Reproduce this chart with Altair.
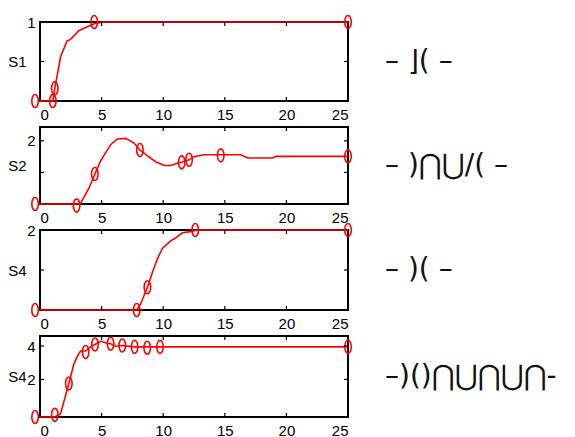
import altair as alt
import pandas as pd

# ---------------- data ----------------
x_ticks = [5, 10, 15, 20]
x_labels = [0, 5, 10, 15, 20, 25]

s1_line_x = [0, 1.04, 1.2, 1.67, 2.2, 2.48, 3.15, 3.7, 4.46, 5.3, 25]
s1_line_y = [0, 0, 0.16, 0.56, 0.76, 0.78, 0.89, 0.93, 0.98, 1.0, 1.0]
s1_mark_x = [-0.4, 1.04, 1.2, 4.4, 25]
s1_mark_y = [0, 0, 0.16, 1.0, 1.0]

s2_line_x = [0, 2.97, 3.3, 3.97, 4.46, 4.92, 5.73, 6.28, 6.95, 7.63, 8.11, 8.7, 9.39,
             10.07, 10.6, 11.15, 11.5, 12.1, 12.5, 13.3, 16.3, 16.85, 18.9, 19.15, 25]
s2_line_y = [0, 0, 0.02, 0.5, 0.95, 1.37, 1.88, 2.06, 2.08, 1.93, 1.71, 1.53, 1.34,
             1.22, 1.22, 1.29, 1.32, 1.40, 1.50, 1.56, 1.56, 1.46, 1.46, 1.51, 1.51]
s2_mark_x = [-0.4, 2.97, 4.45, 8.11, 11.5, 12.1, 14.67, 25]
s2_mark_y = [0, -0.05, 0.95, 1.71, 1.32, 1.40, 1.54, 1.51]

s3_line_x = [0, 7.85, 8.17, 8.72, 9.12, 9.53, 9.93, 10.6, 10.9, 11.56, 12.2, 12.8, 25]
s3_line_y = [0, 0, 0.15, 0.57, 0.94, 1.28, 1.54, 1.73, 1.78, 1.93, 1.96, 2.0, 2.0]
s3_mark_x = [-0.4, 7.85, 8.72, 12.6, 25]
s3_mark_y = [0, 0, 0.57, 2.0, 2.0]

s4_line_x = [0, 1.2, 1.67, 2.34, 2.75, 3.07, 3.3, 3.7, 4.1, 4.46, 4.92, 5.33, 5.73,
             6.14, 6.68, 7.68, 8.7, 9.74, 25]
s4_line_y = [-0.25, -0.25, -0.05, 1.76, 2.92, 3.45, 3.7, 3.7, 3.95, 4.09, 4.28, 4.2, 4.14,
             3.99, 4.03, 3.95, 3.95, 3.95, 3.95]
s4_mark_x = [-0.4, 1.2, 2.34, 3.7, 4.46, 5.73, 6.68, 7.68, 8.7, 9.74, 25]
s4_mark_y = [-0.25, -0.12, 1.76, 3.64, 4.09, 4.14, 4.03, 3.95, 3.9, 3.95, 3.95]

panel_names = ["S1", "S2", "S4", "S4"]
glyphs = ["\u2013 \u230b( \u2013", "\u2013 )\u22c2\u22c3/( \u2013", "\u2013 )( \u2013",
          "\u2013)()\u22c2\u22c3\u22c2\u22c3\u22c2-"]

# ---------------- chart ----------------
W = 308
ELLIPSE = "M-0.5,0A0.5,1,0,1,1,0.5,0A0.5,1,0,1,1,-0.5,0Z"
RED = "#ff0000"


def panel(name, lx, ly, mx, my, ydom, ylabels, yticks, h, glyph):
    line_df = pd.DataFrame({"x": lx, "y": ly})
    mk_df = pd.DataFrame({"x": mx, "y": my})
    xt_df = pd.DataFrame({"t": x_ticks})
    yt_df = pd.DataFrame({"t": yticks})
    xs = alt.Scale(domain=[0, 25], nice=False, zero=False)
    ys = alt.Scale(domain=ydom, nice=False, zero=False)
    xax = alt.Axis(values=x_labels, tickSize=0, domain=False, grid=False,
                   labelPadding=6, title=None, format="d")
    yax = alt.Axis(values=ylabels, tickSize=0, domain=False, grid=False,
                   labelPadding=5, title=name, titleAngle=0, titleX=-23,
                   titleY=h / 2, titleAlign="center", titleBaseline="middle",
                   format="d")
    X = lambda f: alt.X(f, scale=xs, axis=xax)
    Y = lambda f: alt.Y(f, scale=ys, axis=yax)
    line = alt.Chart(line_df).mark_line(color=RED, strokeWidth=1.6).encode(
        x=X("x:Q"), y=Y("y:Q"))
    pts = alt.Chart(mk_df).mark_point(
        shape=ELLIPSE, size=169, color=RED, filled=False, strokeWidth=1.6, opacity=1
    ).encode(x=X("x:Q"), y=Y("y:Q"))
    xt_top = alt.Chart(xt_df).mark_rule(color="black", strokeWidth=1.2).encode(
        x=X("t:Q"), y=alt.value(0), y2=alt.value(4))
    xt_bot = alt.Chart(xt_df).mark_rule(color="black", strokeWidth=1.2).encode(
        x=X("t:Q"), y=alt.value(h), y2=alt.value(h - 4))
    yt_l = alt.Chart(yt_df).mark_rule(color="black", strokeWidth=1.2).encode(
        y=Y("t:Q"), x=alt.value(0), x2=alt.value(4))
    yt_r = alt.Chart(yt_df).mark_rule(color="black", strokeWidth=1.2).encode(
        y=Y("t:Q"), x=alt.value(W), x2=alt.value(W - 4))
    txt = alt.Chart(pd.DataFrame({"g": [glyph]})).mark_text(
        align="left", baseline="middle", fontSize=28, font="DejaVu Sans",
        color="#111111"
    ).encode(text="g:N", x=alt.value(345), y=alt.value(h / 2))
    return alt.layer(line, pts, xt_top, xt_bot, yt_l, yt_r, txt).properties(
        width=W, height=h)


p1 = panel(panel_names[0], s1_line_x, s1_line_y, s1_mark_x, s1_mark_y,
           [0, 1], [1], [0.5], 79, glyphs[0])
p2 = panel(panel_names[1], s2_line_x, s2_line_y, s2_mark_x, s2_mark_y,
           [0, 2.44], [2], [1, 2], 77, glyphs[1])
p3 = panel(panel_names[2], s3_line_x, s3_line_y, s3_mark_x, s3_mark_y,
           [0, 2], [2], [1], 80, glyphs[2])
p4 = panel(panel_names[3], s4_line_x, s4_line_y, s4_mark_x, s4_mark_y,
           [-0.25, 4.6], [2, 4], [2, 4], 81, glyphs[3])

chart = alt.vconcat(p1, p2, p3, p4, spacing=26, bounds="flush").properties(
    padding={"left": -2, "top": 3, "right": 0, "bottom": 0}
).configure_view(
    stroke="black", strokeWidth=2
).configure_axis(
    labelFont="Liberation Sans", labelFontSize=15, labelColor="black",
    titleFont="Liberation Sans", titleFontSize=15, titleFontWeight="normal",
    titleColor="black"
)

chart.save("out.html", embed_options={"renderer": "svg", "actions": False})
